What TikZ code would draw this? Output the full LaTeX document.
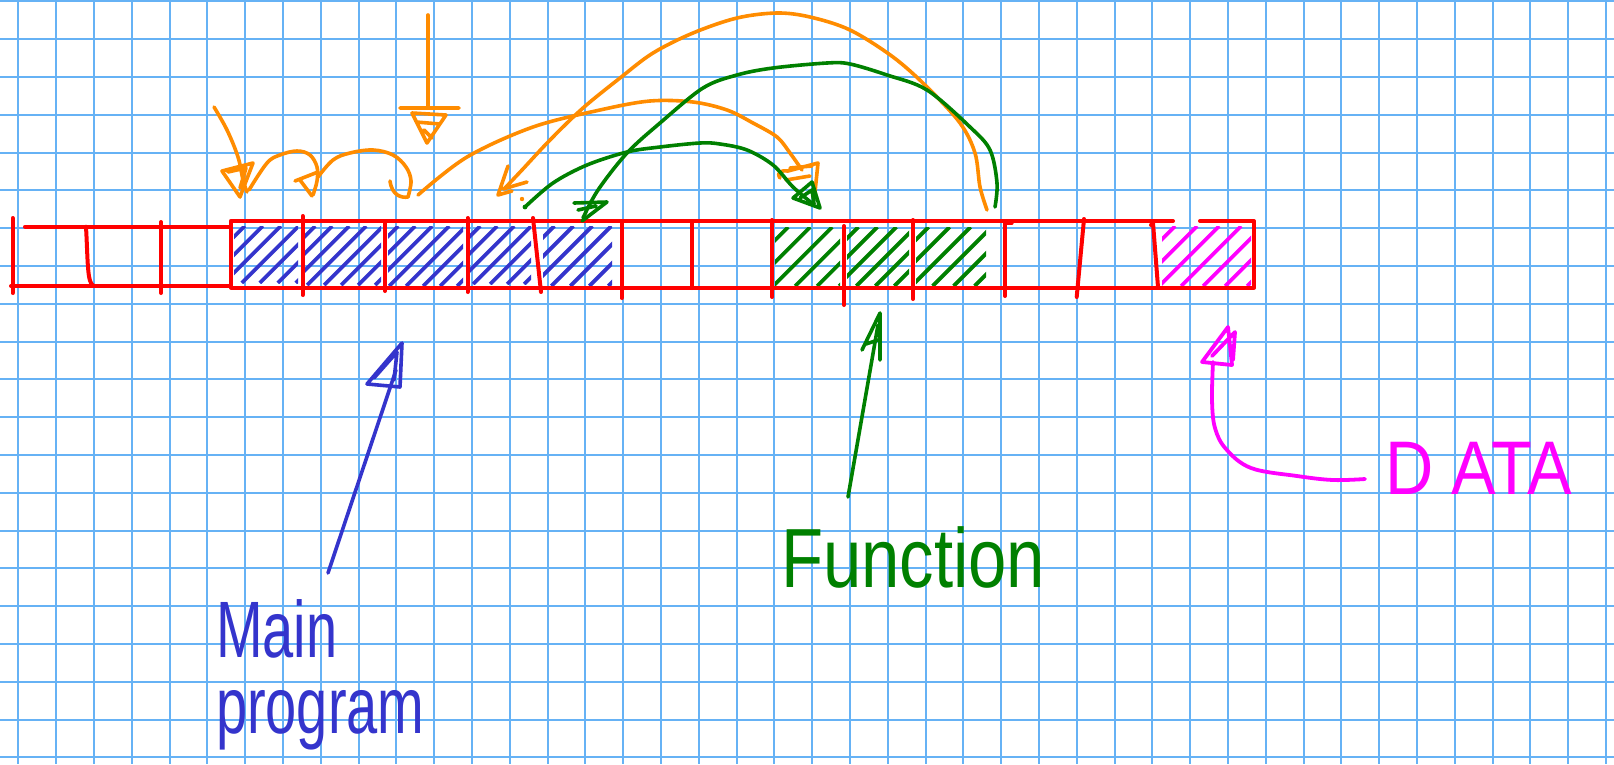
\documentclass[tikz,border=0pt]{standalone}
\usepackage{fontspec}
\usepackage{graphicx}
\setmainfont{Liberation Sans}
\definecolor{gridblue}{RGB}{102,178,245}
\definecolor{pred}{RGB}{255,0,0}
\definecolor{pblue}{RGB}{52,52,204}
\definecolor{pgreen}{RGB}{0,128,0}
\definecolor{porange}{RGB}{255,140,0}
\definecolor{pmag}{RGB}{255,0,255}
\tikzset{
  gridline/.style={draw=gridblue, line width=2pt},
  pen/.style={line width=4pt, line cap=round, line join=round},
  redpen/.style={pen, draw=pred},
  bluepen/.style={pen, draw=pblue, line width=3.6pt},
  greenpen/.style={pen, draw=pgreen, line width=3.6pt},
  orangepen/.style={pen, draw=porange, line width=3.6pt},
  magpen/.style={pen, draw=pmag, line width=3.8pt},
  hatchblue/.style={draw=pblue, line width=3.8pt},
  hatchgreen/.style={draw=pgreen, line width=3.8pt},
  hatchmag/.style={draw=pmag, line width=3.8pt},
  lbl/.style={anchor=base west, inner sep=0pt, outer sep=0pt},
}
\newcommand\hatchcell[6]{%
  \begin{scope}
    \clip (#1,#2) rectangle (#3,#4);
    \foreach \k in {0,...,14}{%
      \pgfmathsetmacro\s{#1+#2+#5*(\k+0.6)}%
      \draw[#6] ({\s-#4},#4) -- ({\s-#2},#2);
    }
  \end{scope}}
\begin{document}
\begin{tikzpicture}[x=1pt,y=-1pt]
\fill[white] (0,0) rectangle (1614,764);
\useasboundingbox (0,0) rectangle (1614,764);
% grid
\foreach \i in {0,...,42} \draw[gridline] ({18.3+37.8*\i},0) -- ({18.3+37.8*\i},764);
\foreach \j in {0,...,20} \draw[gridline] (0,{1.3+37.8*\j}) -- (1614,{1.3+37.8*\j});

% hatching
\hatchcell{234}{226}{298}{283}{18}{hatchblue}
\hatchcell{305}{226}{381}{285}{17}{hatchblue}
\hatchcell{388}{226}{463}{286}{17}{hatchblue}
\hatchcell{470}{226}{531}{284}{17}{hatchblue}
\hatchcell{543}{226}{612}{286}{19}{hatchblue}
\hatchcell{775}{227}{840}{286}{22}{hatchgreen}
\hatchcell{847}{227}{909}{286}{19}{hatchgreen}
\hatchcell{916}{227}{986}{286}{21}{hatchgreen}
\hatchcell{1162}{226}{1251}{286}{22}{hatchmag}

% red memory strip
\draw[redpen] (25,226.7) -- (230.7,226.7);
\draw[redpen] (11,286) -- (230.7,286);
\draw[redpen] (12.7,218) -- (12.7,293);
\draw[redpen] (86,226.7) .. controls (88,262) and (87,284) .. (94,286);
\draw[redpen] (161,222) -- (161,293);
\draw[redpen] (1173,221) -- (230.7,221) -- (230.7,287.5) -- (1254,287.5) -- (1254,221) -- (1200,221);
\draw[redpen] (302.7,216) -- (302.7,295);
\draw[redpen] (385,222) -- (385,291);
\draw[redpen] (467.5,218) -- (467.5,292);
\draw[redpen] (533,218) -- (541,292);
\draw[redpen] (621.7,222) -- (621.7,298);
\draw[redpen] (692,221) -- (692,288);
\draw[redpen] (772,220) -- (772,297);
\draw[redpen] (844,226) -- (844,305);
\draw[redpen] (913,220) -- (913,299);
\draw[redpen] (1011.7,223) -- (1005,223) -- (1005,296);
\draw[redpen] (1084,219) -- (1076.7,297);
\draw[redpen] (1151,225) -- (1153,223) -- (1158,287);

% named points
\coordinate (oAs) at (214,107);   \coordinate (oAe) at (247,192);
\coordinate (oBs) at (249,190);   \coordinate (oBe) at (313,195);
\coordinate (oCs) at (318,177);   \coordinate (oCe) at (408,197);
\coordinate (oVs) at (428,15);    \coordinate (oVe) at (428,108);
\coordinate (o1s) at (418,195);   \coordinate (o1e) at (802,170);
\coordinate (o2s) at (987,210);   \coordinate (o2e) at (505,188);
\coordinate (g1s) at (525,207);   \coordinate (g1e) at (813,204);
\coordinate (g2s) at (995,207);   \coordinate (g2e) at (583,218);
\coordinate (mps) at (328,573);   \coordinate (mpe) at (396,370);
\coordinate (fns) at (848,497);   \coordinate (fne) at (878,325);
\coordinate (dts) at (1365,479);  \coordinate (dte) at (1213,362);

% orange arrows
\draw[orangepen] plot[smooth, tension=0.6] coordinates {(oAs) (227,130) (238,157) (243,180) (oAe)};
\draw[orangepen] (222,171) -- (253,163) -- (240,197) -- cycle (228,172) -- (246,168) -- (240,188);
\draw[orangepen] plot[smooth, tension=0.6] coordinates {(oBs) (267,163) (280,155) (297,151) (310,155) (317,167) (317,181) (oBe)};
\draw[orangepen] (295,181) -- (318,172) (300,180) -- (312,196);
\draw[orangepen] plot[smooth, tension=0.6] coordinates {(oCs) (333,160) (350,153) (373,150) (393,155) (406,167) (411,181) (oCe)};
\draw[orangepen] (390,181) .. controls (392,196) and (402,198) .. (408,197);
\draw[orangepen] (oVs) -- (oVe);
\draw[orangepen] (400,108) -- (459,108) (412,113) -- (446,115) -- (427,143) -- cycle (416,122) -- (440,124) (424,130) -- (432,138);
\draw[orangepen] plot[smooth, tension=0.55] coordinates {(o1s) (467,157) (533,127) (600,110) (650,101) (693,102) (727,110) (753,123) (777,137) (790,153) (o1e)};
\draw[orangepen] (780,178) .. controls (776,172) and (782,170) .. (788,171) -- (818,163) -- (815,192) (790,168) -- (812,166) (786,180) -- (810,176);
\draw[orangepen] plot[smooth, tension=0.55] coordinates {(o2s) (980,187) (975,153) (960,123) (927,87) (893,57) (850,30) (810,17) (777,13) (737,18) (693,33) (653,53) (620,78) (583,108) (550,140) (522,170) (o2e)};
\draw[orangepen] (508,166) -- (498,195) -- (512,191) (503,189) -- (527,182);
\fill[porange] (522,199) circle (2.2pt);

% green arrows
\draw[greenpen] plot[smooth, tension=0.55] coordinates {(g1s) (553,183) (587,165) (627,152) (660,147) (700,143) (720,144) (747,150) (773,165) (793,187) (g1e)};
\draw[greenpen] (793,198) -- (812,182) -- (820,208) -- cycle (800,198) -- (812,190) -- (814,204);
\fill[pgreen] (525,207) circle (2.4pt);
\draw[greenpen] plot[smooth, tension=0.55] coordinates {(g2s) (997,183) (990,150) (970,127) (927,90) (887,75) (850,64) (827,63) (773,68) (737,75) (703,88) (660,123) (627,153) (598,190) (g2e)};
\draw[greenpen] (574,203) -- (607,202) -- (582,221) (578,210) -- (596,206);

% Main program arrow
\draw[bluepen] (mps) -- (mpe);
\draw[bluepen] (367,384) -- (402,343) -- (400,387) -- cycle (374,378) -- (397,352) -- (394,380);
\node[lbl, text=pblue, font=\fontsize{80}{80}\selectfont] (mainA) at (216,657) {\scalebox{0.7}[1]{Main}};
\node[lbl, text=pblue, font=\fontsize{80}{80}\selectfont] (mainB) at (216,733) {\scalebox{0.7}[1]{program}};

% Function arrow
\draw[greenpen] (fns) -- (fne);
\draw[greenpen] (862,350) -- (880,313) -- (880,360) (866,344) -- (878,340);
\node[lbl, text=pgreen, font=\fontsize{84}{84}\selectfont] (funcl) at (781,587) {\scalebox{0.82}[1]{Function}};

% Data arrow
\draw[magpen] plot[smooth, tension=0.6] coordinates {(dts) (1333,480) (1297,476) (1251,468) (1226,449) (1215,428) (1212,400) (dte)};
\draw[magpen] (1202,362) -- (1228,327) -- (1232,365) -- cycle (1212,356) -- (1235,332) -- (1233,360);
\node[lbl, text=pmag, font=\fontsize{76}{76}\selectfont] (datal) at (1385,494) {\scalebox{0.88}[1]{D ATA}};
\end{tikzpicture}
\end{document}
